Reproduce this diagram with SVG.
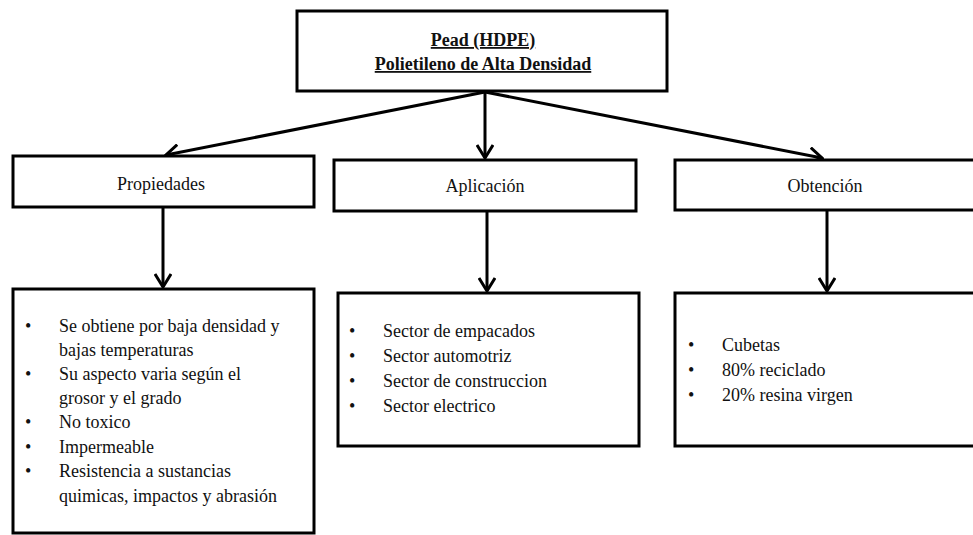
<svg xmlns="http://www.w3.org/2000/svg" width="973" height="535" viewBox="0 0 973 535">
<defs>
<style>
.box{fill:#fff;stroke:#000;stroke-width:3}
.t{font-family:"Liberation Serif","Times New Roman",serif;font-size:18px;fill:#111}
.c{text-anchor:middle}
.title{font-weight:bold;text-decoration:underline}
.con{stroke:#000;stroke-width:3;fill:none}
</style>
<marker id="ah" viewBox="0 0 16 18" refX="14" refY="9" markerWidth="16" markerHeight="18" markerUnits="userSpaceOnUse" orient="auto">
<path d="M1,1 L14,9 L1,17" fill="none" stroke="#000" stroke-width="3" stroke-linejoin="miter"/>
</marker>
</defs>
<rect width="973" height="535" fill="#fff"/>
<g id="connectors">
<path class="con" d="M485,92 L166,155" marker-end="url(#ah)"/>
<path class="con" d="M485,92 L485,158" marker-end="url(#ah)"/>
<path class="con" d="M485,92 L822,158" marker-end="url(#ah)"/>
<path class="con" d="M163,208 L163,287" marker-end="url(#ah)"/>
<path class="con" d="M487,212 L487,291" marker-end="url(#ah)"/>
<path class="con" d="M827,211 L827,291" marker-end="url(#ah)"/>
</g>
<g id="root">
<rect class="box" x="297" y="11" width="370" height="80"/>
<text class="t c title" x="483" y="46">Pead (HDPE)</text>
<text class="t c title" x="483" y="70">Polietileno de Alta Densidad</text>
</g>
<g id="propiedades">
<rect class="box" x="13" y="156" width="301" height="51"/>
<text class="t c" x="161" y="190">Propiedades</text>
</g>
<g id="aplicacion">
<rect class="box" x="334" y="160" width="302" height="51"/>
<text class="t c" x="485" y="192">Aplicación</text>
</g>
<g id="obtencion">
<rect class="box" x="675" y="160" width="310" height="50"/>
<text class="t c" x="825" y="192">Obtención</text>
</g>
<g id="propiedades-list">
<rect class="box" x="13" y="289" width="301" height="244"/>
<g class="t">
<text x="25" y="332">•</text><text x="59" y="332">Se obtiene  por baja densidad  y</text>
<text x="59" y="356">bajas temperaturas</text>
<text x="25" y="380">•</text><text x="59" y="380">Su aspecto varia  según  el</text>
<text x="59" y="404">grosor  y el grado</text>
<text x="25" y="428">•</text><text x="59" y="428">No toxico</text>
<text x="25" y="453">•</text><text x="59" y="453">Impermeable</text>
<text x="25" y="477">•</text><text x="59" y="477">Resistencia  a sustancias</text>
<text x="59" y="502">quimicas,  impactos  y abrasión</text>
</g>
</g>
<g id="aplicacion-list">
<rect class="box" x="338" y="293" width="301" height="153"/>
<g class="t">
<text x="349" y="337">•</text><text x="383" y="337">Sector de empacados</text>
<text x="349" y="362">•</text><text x="383" y="362">Sector automotriz</text>
<text x="349" y="387">•</text><text x="383" y="387">Sector de construccion</text>
<text x="349" y="412">•</text><text x="383" y="412">Sector electrico</text>
</g>
</g>
<g id="obtencion-list">
<rect class="box" x="675" y="293" width="310" height="153"/>
<g class="t">
<text x="688" y="351">•</text><text x="722" y="351">Cubetas</text>
<text x="688" y="376">•</text><text x="722" y="376">80% reciclado</text>
<text x="688" y="401">•</text><text x="722" y="401">20% resina  virgen</text>
</g>
</g>
</svg>
